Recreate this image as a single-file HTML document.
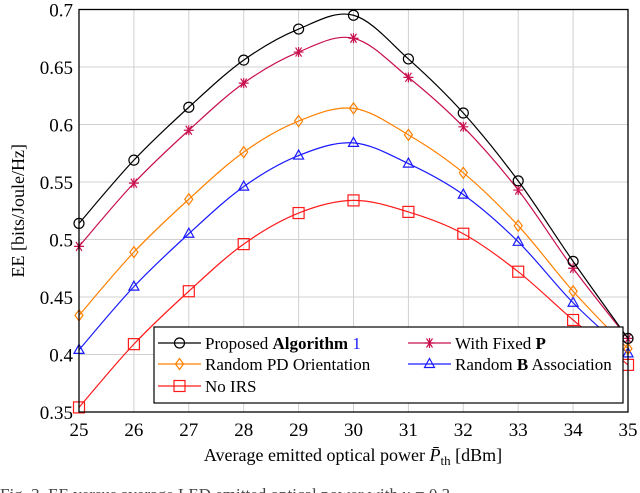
<!DOCTYPE html>
<html><head><meta charset="utf-8"><style>
body{margin:0;background:#fff;width:640px;height:493px;overflow:hidden}
svg{display:block;font-family:"Liberation Serif",serif}
</style></head><body>
<svg id="chart" width="640" height="493"></svg>
<script>
const xCats=[25,26,27,28,29,30,31,32,33,34,35];
const yTicks=[0.35,0.4,0.45,0.5,0.55,0.6,0.65,0.7];
const yTickLabels=["0.35","0.4","0.45","0.5","0.55","0.6","0.65","0.7"];
const proposed=[0.514,0.569,0.615,0.656,0.683,0.695,0.657,0.610,0.551,0.481,0.414];
const fixedP=[0.494,0.549,0.595,0.636,0.663,0.675,0.641,0.598,0.543,0.475,0.414];
const randomPD=[0.434,0.489,0.535,0.576,0.603,0.614,0.591,0.558,0.512,0.455,0.405];
const randomB=[0.404,0.459,0.505,0.546,0.573,0.584,0.566,0.539,0.498,0.445,0.401];
const noIRS=[0.354,0.409,0.455,0.496,0.523,0.534,0.524,0.505,0.472,0.430,0.391];

const L=79,R=628,T=9.5,B=412;
const sx=v=>L+(v-25)/10*(R-L);
const sy=v=>B-(v-0.35)/0.35*(B-T);
const svg=document.getElementById('chart');
const NS='http://www.w3.org/2000/svg';
function mk(tag,attrs,parent){const e=document.createElementNS(NS,tag);for(const k in attrs)e.setAttribute(k,attrs[k]);(parent||svg).appendChild(e);return e;}

// grid
xCats.forEach(c=>{const l=mk('line',{x1:sx(c),x2:sx(c),y1:T,y2:B,stroke:'#d0d0d0','stroke-width':1});


const t=mk('text',{x:sx(c),y:B+24,'text-anchor':'middle','font-size':19});t.textContent=c;

});
yTicks.forEach((v,i)=>{const l=mk('line',{x1:L,x2:R,y1:sy(v),y2:sy(v),stroke:'#d0d0d0','stroke-width':1});


const t=mk('text',{x:L-6,y:sy(v)+7,'text-anchor':'end','font-size':19});t.textContent=yTickLabels[i];

});

function path(vals){const p=vals.map((v,i)=>[sx(xCats[i]),sy(v)]);let d=`M${p[0][0]},${p[0][1]}`;
for(let i=0;i<p.length-1;i++){const p0=p[Math.max(0,i-1)],p1=p[i],p2=p[i+1],p3=p[Math.min(p.length-1,i+2)];
const c1=[p1[0]+(p2[0]-p0[0])/6,p1[1]+(p2[1]-p0[1])/6],c2=[p2[0]-(p3[0]-p1[0])/6,p2[1]-(p3[1]-p1[1])/6];
d+=`C${c1[0]},${c1[1]} ${c2[0]},${c2[1]} ${p2[0]},${p2[1]}`;}return d;}
function marker(type,x,y,color,g){
 if(type==='circle')return mk('circle',{cx:x,cy:y,r:5,fill:'none',stroke:color,'stroke-width':1.2},g);
 if(type==='star'){const p=g?mk('path',{d:`M${x-5},${y}H${x+5}M${x-3},${y-4.5}L${x+3},${y+4.5}M${x+3},${y-4.5}L${x-3},${y+4.5}M${x},${y-5}V${y+5}`,stroke:color,'stroke-width':1.2,fill:'none'},g):null;return p;}
 if(type==='diamond')return mk('polygon',{points:`${x},${y-5.5} ${x+4},${y} ${x},${y+5.5} ${x-4},${y}`,fill:'none',stroke:color,'stroke-width':1.2},g);
 if(type==='tri')return mk('polygon',{points:`${x},${y-5.5} ${x+5},${y+3.5} ${x-5},${y+3.5}`,fill:'none',stroke:color,'stroke-width':1.2},g);
 if(type==='square')return mk('rect',{x:x-5.5,y:y-5.5,width:11,height:11,fill:'none',stroke:color,'stroke-width':1.2},g);
}
const series=[
 {vals:noIRS,color:'#ff1a1a',m:'square',name:'series-no-irs'},
 {vals:randomB,color:'#1a1aff',m:'tri',name:'series-random-b'},
 {vals:randomPD,color:'#ff8000',m:'diamond',name:'series-random-pd'},
 {vals:fixedP,color:'#c8104f',m:'star',name:'series-fixed-p'},
 {vals:proposed,color:'#000000',m:'circle',name:'series-proposed'}];
series.forEach(s=>{const g=mk('g',{});


mk('path',{d:path(s.vals),fill:'none',stroke:s.color,'stroke-width':1.2},g);
s.vals.forEach((v,i)=>marker(s.m,sx(xCats[i]),sy(v),s.color,g));});

const frame=mk('rect',{x:L,y:T,width:R-L,height:B-T,fill:'none',stroke:'#000','stroke-width':1.3});



// legend
const lg=mk('g',{});


mk('rect',{x:154,y:327,width:469,height:76,fill:'#fff',stroke:'#000','stroke-width':1.2},lg);
const entries=[
 {x:158,y:343,c:'#000',m:'circle',html:'Proposed <tspan font-weight="bold">Algorithm</tspan> <tspan fill="#1a1aff">1</tspan>'},
 {x:408,y:343,c:'#c8104f',m:'star',html:'With Fixed <tspan font-weight="bold">P</tspan>'},
 {x:158,y:364,c:'#ff8000',m:'diamond',html:'Random PD Orientation'},
 {x:408,y:364,c:'#1a1aff',m:'tri',html:'Random <tspan font-weight="bold">B</tspan> Association'},
 {x:158,y:386,c:'#ff1a1a',m:'square',html:'No IRS'}];
entries.forEach(e=>{const g=mk('g',{},lg);


mk('line',{x1:e.x,x2:e.x+43,y1:e.y,y2:e.y,stroke:e.c,'stroke-width':1.2},g);
marker(e.m,e.x+21.5,e.y,e.c,g);
const t=mk('text',{x:e.x+47,y:e.y+6,'font-size':17},g);t.innerHTML=e.html;});

const xt=mk('text',{x:353,y:461,'text-anchor':'middle','font-size':18});
xt.innerHTML='Average emitted optical power <tspan font-style="italic">P̄</tspan><tspan font-size="13" dy="4">th</tspan><tspan dy="-4"> [dBm]</tspan>';


const yt=mk('text',{x:0,y:0,'text-anchor':'middle','font-size':18,transform:`translate(24,${(T+B)/2}) rotate(-90)`});
yt.textContent='EE [bits/Joule/Hz]';


const cap=mk('text',{x:0,y:500,'font-size':17,fill:'#444'});
cap.textContent='Fig. 3.   EE versus average LED emitted optical power with κ = 0.3';


</script>
</body></html>
